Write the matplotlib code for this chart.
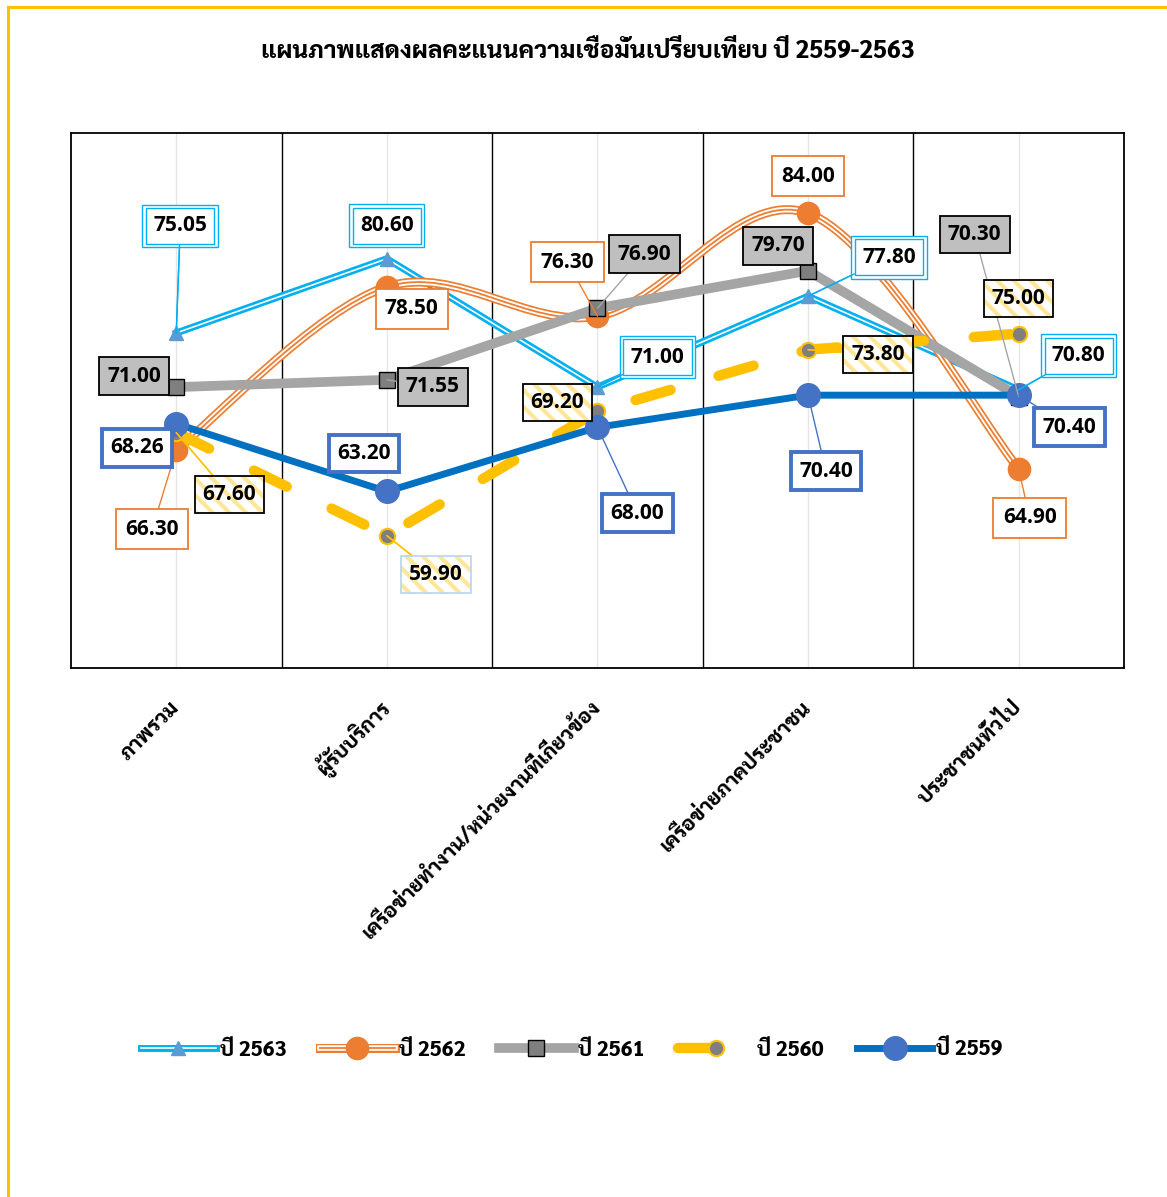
import numpy as np
import matplotlib
matplotlib.use('Agg')
import matplotlib.pyplot as plt
from matplotlib.path import Path
from matplotlib.patches import PathPatch
from matplotlib.lines import Line2D
from matplotlib.legend_handler import HandlerTuple

plt.rcParams['font.family'] = ['Sarabun', 'DejaVu Sans']

title = 'แผนภาพแสดงผลคะแนนความเชื่อมั่นเปรียบเทียบ ปี 2559-2563'
categories = ['ภาพรวม', 'ผู้รับบริการ', 'เครือข่ายทำงาน/หน่วยงานที่เกี่ยวข้อง',
              'เครือข่ายภาคประชาชน', 'ประชาชนทั่วไป']
series_names = ['ปี 2563', 'ปี 2562', 'ปี 2561', 'ปี 2560', 'ปี 2559']
y2563 = [75.05, 80.60, 71.00, 77.80, 70.80]
y2562 = [66.30, 78.50, 76.30, 84.00, 64.90]
y2561 = [71.00, 71.55, 76.90, 79.70, 70.30]
y2560 = [67.60, 59.90, 69.20, 73.80, 75.00]
y2559 = [68.26, 63.20, 68.00, 70.40, 70.40]

# label offsets from the point, in pixels (dx, dy up)
off2563 = [(4, 107), (0, 33), (60, 30), (81, 39), (60, 34)]
off2562 = [(-24, -79), (25, -22), (-30, 54), (0, 37), (11, -49)]
off2561 = [(-42, 11), (46, -7), (47, 54), (-30, 25), (-44, 162)]
off2560 = [(53, -62), (49, -39), (-40, 9), (70, -5), (0, 35)]
off2559 = [(-39, -24), (-23, 38), (40, -86), (18, -76), (51, -32)]

x = np.arange(len(categories))

fig = plt.figure(figsize=(11.67, 11.97), dpi=100)
ax = fig.add_axes([0.0608, 0.4419, 0.9023, 0.447])
ax.set_xlim(-0.5, 4.5)
ax.set_ylim(50, 90)
ax.set_yticks([])
for s in ax.spines.values():
    s.set_color('black')
    s.set_linewidth(1.3)
for xb in np.arange(0.5, 4.5, 1):
    ax.axvline(xb, color='black', lw=1.0, zorder=1)
for xc in x:
    ax.axvline(xc, color='#E6E6E6', lw=1.0, zorder=0)

ax.set_xticks(x)
ax.set_xticklabels(categories, rotation=45, ha='right', va='center',
                   rotation_mode='anchor', fontsize=15, fontweight='heavy')
ax.tick_params(axis='x', length=0, pad=26)


def smooth_path(xs, ys):
    pts = np.column_stack([xs, ys]).astype(float)
    n = len(pts)
    verts = [pts[0]]
    codes = [Path.MOVETO]
    for i in range(n - 1):
        p0 = pts[i - 1] if i > 0 else pts[i]
        p3 = pts[i + 2] if i + 2 < n else pts[i + 1]
        verts += [pts[i] + (pts[i + 1] - p0) / 6,
                  pts[i + 1] - (p3 - pts[i]) / 6,
                  pts[i + 1]]
        codes += [Path.CURVE4] * 3
    return Path(verts, codes)


# 2563 - light blue double line
ax.plot(x, y2563, color='#00B0F0', lw=5, zorder=3)
ax.plot(x, y2563, color='white', lw=1.2, zorder=3)
ax.plot(x, y2563, ls='none', marker='^', ms=10, color='#5B9BD5', zorder=3)

# 2562 - orange smoothed triple line
p = smooth_path(x, y2562)
ax.add_patch(PathPatch(p, fill=False, ec='#ED7D31', lw=6.5, zorder=4))
ax.add_patch(PathPatch(p, fill=False, ec='white', lw=4.0, zorder=4))
ax.add_patch(PathPatch(p, fill=False, ec='#ED7D31', lw=1.3, zorder=4))
ax.plot(x, y2562, ls='none', marker='o', ms=16, color='#ED7D31', zorder=4)

# 2561 - gray
ax.plot(x, y2561, color='#A5A5A5', lw=7, zorder=5)
ax.plot(x, y2561, ls='none', marker='s', ms=12, mfc='#7F7F7F', mec='black',
        mew=1.0, zorder=5)

# 2560 - yellow dashed
ax.plot(x, y2560, color='#FFC000', lw=7.5, ls=(0, (3.5, 4.8)),
        dash_capstyle='round', zorder=6)
ax.plot(x, y2560, ls='none', marker='o', ms=11, mfc='#7F7F7F', mec='#FFC000',
        mew=1.5, zorder=6)

# 2559 - blue
ax.plot(x, y2559, color='#0070C0', lw=5, zorder=7)
ax.plot(x, y2559, ls='none', marker='o', ms=17, color='#4472C4', zorder=7)

label_fs = 15


def add_label(xv, yv, off, bbox, lead, text_color='black'):
    d = np.hypot(*off)
    arrow = dict(arrowstyle='-', color=lead, lw=1.0, shrinkA=0, shrinkB=0) if d > 45 else None
    ax.annotate(f'{yv:.2f}', (xv, yv), xytext=off, textcoords='offset pixels',
                ha='center', va='center', fontsize=label_fs, fontweight='bold',
                family='Open Sans', color=text_color, bbox=bbox,
                arrowprops=arrow, zorder=8)


for xi, v, o in zip(x, y2563, off2563):
    add_label(xi, v, o, dict(boxstyle='square,pad=0.52', fc='white', ec='#00B0F0', lw=1.0),
              '#00B0F0', text_color='none')
    add_label(xi, v, o, dict(boxstyle='square,pad=0.35', fc='white', ec='#00B0F0', lw=1.0),
              '#00B0F0')
for xi, v, o in zip(x, y2562, off2562):
    add_label(xi, v, o, dict(boxstyle='square,pad=0.45', fc='white', ec='#ED7D31', lw=1.3),
              '#ED7D31')
for xi, v, o in zip(x, y2561, off2561):
    add_label(xi, v, o, dict(boxstyle='square,pad=0.4', fc='#BFBFBF', ec='black', lw=1.3),
              '#A5A5A5')
plt.rcParams['hatch.linewidth'] = 3.0
for i, (xi, v, o) in enumerate(zip(x, y2560, off2560)):
    edge = '#BDD7EE' if i == 1 else 'black'
    add_label(xi, v, o, dict(boxstyle='square,pad=0.38', fc='white', ec='#FFE699', lw=0,
                             hatch='\\\\'), '#FFC000', text_color='none')
    add_label(xi, v, o, dict(boxstyle='square,pad=0.38', fc='none', ec=edge, lw=1.3),
              '#FFC000')
for xi, v, o in zip(x, y2559, off2559):
    add_label(xi, v, o, dict(boxstyle='square,pad=0.4', fc='white', ec='#4472C4', lw=2.8),
              '#4472C4')

fig.text(0.504, 0.9566, title, ha='center', va='center', fontsize=17.5, fontweight='heavy')

# legend
h2563 = (Line2D([], [], color='#00B0F0', lw=5), Line2D([], [], color='white', lw=1.2),
         Line2D([], [], ls='none', marker='^', ms=10, color='#5B9BD5'))
h2562 = (Line2D([], [], color='#ED7D31', lw=6.5), Line2D([], [], color='white', lw=4.0),
         Line2D([], [], color='#ED7D31', lw=1.3),
         Line2D([], [], ls='none', marker='o', ms=16, color='#ED7D31'))
h2561 = (Line2D([], [], color='#A5A5A5', lw=7),
         Line2D([], [], ls='none', marker='s', ms=12, mfc='#7F7F7F', mec='black'))
h2560 = (Line2D([], [], color='#FFC000', lw=7.5, ls=(0, (3.5, 4.8)), dash_capstyle='round'),
         Line2D([], [], ls='none', marker='o', ms=11, mfc='#7F7F7F', mec='#FFC000', mew=1.5))
h2559 = (Line2D([], [], color='#0070C0', lw=5),
         Line2D([], [], ls='none', marker='o', ms=17, color='#4472C4'))
fig.legend([h2563, h2562, h2561, h2560, h2559], series_names, loc='center',
           bbox_to_anchor=(0.49, 1 - 1050 / 1197), ncol=5, frameon=False,
           handlelength=3.6, handletextpad=0.2, columnspacing=1.6,
           handler_map={tuple: HandlerTuple(ndivide=1, pad=0)},
           prop={'size': 15, 'weight': 'heavy'})

# yellow outer border (left and top)
fig.add_artist(Line2D([7.5 / 1167, 7.5 / 1167], [0, 1 - 6.5 / 1197], color='#FFC000', lw=2.2))
fig.add_artist(Line2D([7.5 / 1167, 1], [1 - 6.5 / 1197, 1 - 6.5 / 1197], color='#FFC000', lw=2.2))

fig.savefig('out.png', dpi=100)
